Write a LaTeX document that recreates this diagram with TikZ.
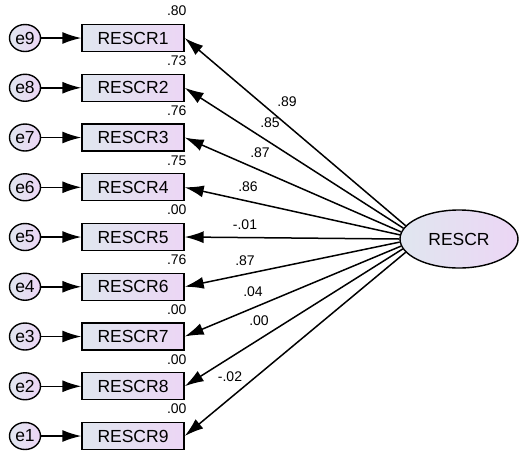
\documentclass[tikz,border=0pt]{standalone}
\usepackage{fontspec}
\setmainfont{Liberation Sans}
\usetikzlibrary{shapes.geometric,arrows.meta,calc}
\definecolor{gleft}{RGB}{224,230,239}
\definecolor{gright}{RGB}{236,214,245}
\tikzset{
  obsbox/.style={draw, line width=1.4pt, minimum width=102pt, minimum height=27pt, inner sep=0pt,
    left color=gleft, right color=gright, font=\fontsize{17.5}{17.5}\selectfont},
  errnode/.style={ellipse, draw, line width=1.4pt, minimum width=31pt, minimum height=27pt, inner sep=0pt,
    left color=gleft, right color=gright, font=\fontsize{17.5}{17.5}\selectfont},
  latnode/.style={ellipse, draw, line width=1.4pt, minimum width=118pt, minimum height=58pt, inner sep=0pt,
    left color=gleft, right color=gright, font=\fontsize{17.5}{17.5}\selectfont},
  arr/.style={line width=1.5pt, -{Latex[length=19pt,width=12pt]}},
  lbl/.style={font=\fontsize{14}{14}\selectfont, inner sep=0pt},
  varlbl/.style={font=\fontsize{14}{14}\selectfont, inner sep=0pt, anchor=base east},
}
\begin{document}
\begin{tikzpicture}[x=1pt,y=-1pt]
\useasboundingbox (0,0) rectangle (520,459);
\node[latnode] (R) at (459,239) {RESCR};
\foreach \i/\e/\v in {1/9/.80,2/8/.73,3/7/.76,4/6/.75,5/5/.00,6/4/.76,7/3/.00,8/2/.00,9/1/.00}{
  \pgfmathsetmacro{\yy}{38+49.75*(\i-1)}
  \pgfmathsetmacro{\ang}{180-3.5*(5-\i)}
  \node[obsbox] (b\i) at (133,\yy) {RESCR\i};
  \node[errnode] (e\e) at (25,\yy) {e\e};
  \draw[arr] (e\e) -- (b\i);
  \draw[arr] (R.\ang) -- (b\i.east);
  \node[varlbl] (v\i) at ($(b\i.north east)+(2,-8)$) {\v};
}
\node[lbl] (c1) at (287,102) {.89};
\node[lbl] (c2) at (270,123) {.85};
\node[lbl] (c3) at (260,153) {.87};
\node[lbl] (c4) at (248,187) {.86};
\node[lbl] (c5) at (245,225) {-.01};
\node[lbl] (c6) at (245,261) {.87};
\node[lbl] (c7) at (253,292) {.04};
\node[lbl] (c8) at (259,321) {.00};
\node[lbl] (c9) at (230,377) {-.02};
\end{tikzpicture}
\end{document}
